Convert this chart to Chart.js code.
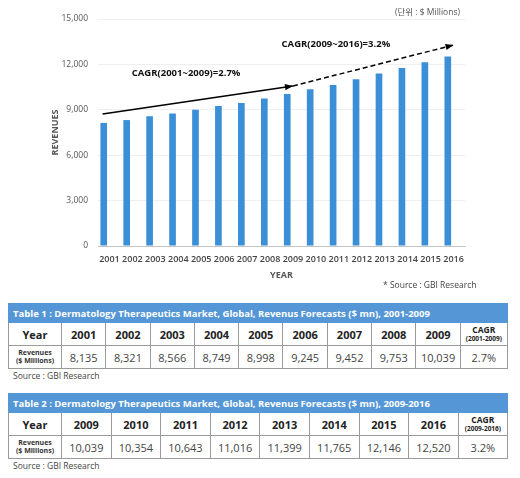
<!DOCTYPE html>
<html><head><meta charset="utf-8">
<script src="https://cdn.jsdelivr.net/npm/chart.js@4/dist/chart.umd.min.js"></script>
<style>
html,body{margin:0;padding:0;background:#fff;}
body{width:520px;height:478px;position:relative;overflow:hidden;font-family:"Open Sans","Noto Sans CJK KR",sans-serif;}
#wrap{position:absolute;left:0;top:0;width:520px;height:290px;}
.note{position:absolute;color:#555;font-size:8.5px;white-space:nowrap;}
table{position:absolute;left:8px;border-collapse:collapse;table-layout:fixed;}
td{border:1px solid #9a9a9a;text-align:center;padding:0;color:#333;}
td.hd{background:#5597d6;color:#fff;font-weight:700;font-size:9.5px;text-align:left;padding-left:4px;height:18px;border-color:#5597d6;white-space:nowrap;overflow:hidden;}
tr.yr td{height:22px;font-weight:700;font-size:11px;color:#222;}
tr.rv td{height:22px;font-size:11px;color:#444;}
tr.rv td.lab{font-weight:700;font-size:7px;line-height:8.5px;color:#333;}
.c1{font-weight:700;font-size:8.5px;line-height:10px;display:block;}
.c2{font-weight:700;font-size:6.5px;line-height:8px;display:block;}
.src{position:absolute;left:13px;font-size:8.5px;color:#444;}
</style></head>
<body>
<div id="wrap"><canvas id="c" width="520" height="290"></canvas></div>
<div class="note" style="left:395px;top:5px;">(단위 : $ Millions)</div>
<div class="note" style="left:383px;top:279px;color:#444;">* Source : GBI Research</div>
<div id="tables"></div>
<script>
const years = ['2001','2002','2003','2004','2005','2006','2007','2008','2009','2010','2011','2012','2013','2014','2015','2016'];
const revenues = [8135, 8321, 8566, 8749, 8998, 9245, 9452, 9753, 10039, 10354, 10643, 11016, 11399, 11765, 12146, 12520];
const yTicks = [0, 3000, 6000, 9000, 12000, 15000];
const trendHistoric = [{x:-0.3, y:8720}, {x:8, y:10575}];
const trendForecast = [{x:8, y:10575}, {x:15, y:13280}];
const cagrLabels = ['CAGR(2001~2009)=2.7%', 'CAGR(2009~2016)=3.2%'];
const cagrAnchors = [{x:3.34, y:11430}, {x:9.87, y:13350}];
const cagrValues = ['2.7%', '3.2%'];
const tableTitles = ['Table 1 : Dermatology Therapeutics Market, Global, Revenus Forecasts ($ mn), 2001-2009',
                     'Table 2 : Dermatology Therapeutics Market, Global, Revenus Forecasts ($ mn), 2009-2016'];
const tableRanges = [['2001','2009'], ['2009','2016']];

const fmt = v => v.toLocaleString('en-US');

const arrowPlugin = {
  id:'arrows',
  afterDatasetsDraw(chart){
    const ctx = chart.ctx;
    chart.data.datasets.forEach((ds,i)=>{
      if(!ds.arrow) return;
      const pts = chart.getDatasetMeta(i).data;
      const a = pts[pts.length-2], b = pts[pts.length-1];
      const ang = Math.atan2(b.y-a.y, b.x-a.x);
      const L = 8, W = 3.2, c = Math.cos(ang), s = Math.sin(ang);
      ctx.save();
      ctx.fillStyle = '#000';
      ctx.beginPath();
      ctx.moveTo(b.x, b.y);
      ctx.lineTo(b.x - L*c + W*s, b.y - L*s - W*c);
      ctx.lineTo(b.x - L*c - W*s, b.y - L*s + W*c);
      ctx.closePath();
      ctx.fill();
      ctx.restore();
    });
    const xs = chart.scales.xl, ys = chart.scales.y;
    ctx.save();
    ctx.fillStyle = '#111';
    ctx.font = 'bold 9.5px "Open Sans", sans-serif';
    ctx.textAlign = 'center';
    ctx.textBaseline = 'middle';
    cagrLabels.forEach((t,i)=>{
      ctx.fillText(t, xs.getPixelForValue(cagrAnchors[i].x), ys.getPixelForValue(cagrAnchors[i].y));
    });
    ctx.restore();
  }
};

new Chart(document.getElementById('c'), {
  data:{
    labels: years,
    datasets:[
      {type:'bar', data: revenues, backgroundColor:'#3a8fd6', categoryPercentage:1, barPercentage:0.58, order:2},
      {type:'line', data: trendHistoric, xAxisID:'xl', borderColor:'#000', borderWidth:1.5, pointRadius:0, fill:false, arrow:true, order:0},
      {type:'line', data: trendForecast, xAxisID:'xl', borderColor:'#000', borderWidth:1.5, borderDash:[5,3], pointRadius:0, fill:false, arrow:true, order:0}
    ]
  },
  options:{
    responsive:false, animation:false,
    layout:{padding:{left:0, top:19, right:55, bottom:0}},
    plugins:{legend:{display:false}, tooltip:{enabled:false}},
    scales:{
      x:{
        grid:{display:false, drawTicks:false},
        border:{color:'#c4c4c4', width:1},
        ticks:{color:'#444', font:{size:9, weight:'600', family:'"Open Sans", sans-serif'}, padding:8, maxRotation:0, autoSkip:false},
        title:{display:true, text:'YEAR', color:'#555', font:{size:9, weight:'bold', family:'"Open Sans", sans-serif'}, padding:{top:0,bottom:9}},
        afterFit(s){ s.height = 44; }
      },
      xl:{type:'linear', display:false, min:-0.5, max:15.5},
      y:{
        min:0, max:15000,
        afterBuildTicks(s){ s.ticks = yTicks.map(v=>({value:v})); },
        grid:{color:'#efefef', drawTicks:false},
        border:{display:false},
        ticks:{color:'#555', font:{size:8.5, family:'"Open Sans", sans-serif'}, padding:10, callback:v=>fmt(v)},
        title:{display:true, text:'REVENUES', color:'#555', font:{size:9, weight:'bold', family:'"Open Sans", sans-serif'}, padding:{top:50,bottom:0}},
        afterFit(s){ s.width = 98; }
      }
    }
  },
  plugins:[arrowPlugin]
});

// tables
const tops = [303, 393];
const srcTops = [370, 460];
const colYear = [44.3, 49.6];
const holder = document.getElementById('tables');
tableRanges.forEach((r,ti)=>{
  const i0 = years.indexOf(r[0]), i1 = years.indexOf(r[1]);
  const ys = years.slice(i0, i1+1), vs = revenues.slice(i0, i1+1);
  const n = ys.length;
  let html = '<table style="top:'+tops[ti]+'px;width:500px"><colgroup><col style="width:53px">';
  ys.forEach(()=>{ html += '<col style="width:'+colYear[ti]+'px">'; });
  html += '<col></colgroup>';
  html += '<tr><td class="hd" colspan="'+(n+2)+'">'+tableTitles[ti]+'</td></tr>';
  html += '<tr class="yr"><td>Year</td>' + ys.map(y=>'<td>'+y+'</td>').join('') +
          '<td><span class="c1">CAGR</span><span class="c2">('+r[0]+'-'+r[1]+')</span></td></tr>';
  html += '<tr class="rv"><td class="lab">Revenues<br>($ Millions)</td>' + vs.map(v=>'<td>'+fmt(v)+'</td>').join('') +
          '<td>'+cagrValues[ti]+'</td></tr></table>';
  html += '<div class="src" style="top:'+srcTops[ti]+'px">Source : GBI Research</div>';
  holder.insertAdjacentHTML('beforeend', html);
});
</script>
</body></html>
